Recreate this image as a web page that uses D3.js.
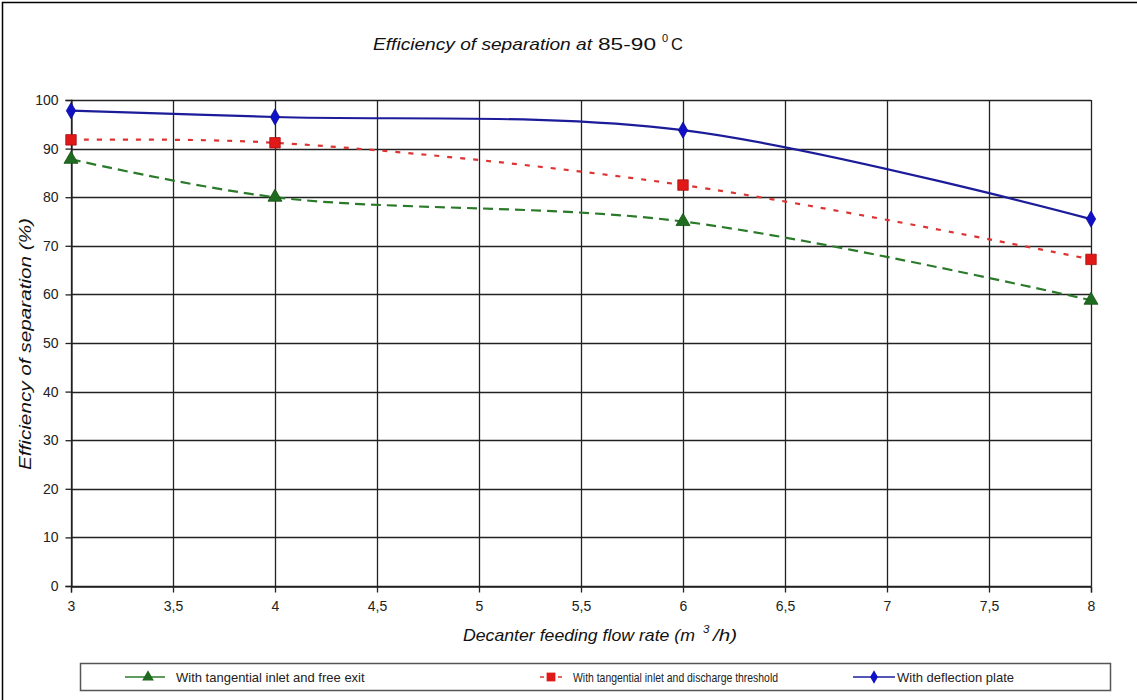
<!DOCTYPE html>
<html><head><meta charset="utf-8">
<script src="https://cdn.jsdelivr.net/npm/d3@7"></script>
<style>body{margin:0;background:#fff;font-family:Arial,"Liberation Sans",sans-serif;}</style>
</head><body><svg id="c" width="1137" height="700"></svg>
<script>
const flowRates = [3, 4, 6, 8];
const tangentialFreeExit = [87.8, 80.0, 75.0, 58.8];
const tangentialThreshold = [91.8, 91.2, 82.5, 67.2];
const deflectionPlate = [97.8, 96.5, 93.8, 75.5];
const xTicks = [3, 3.5, 4, 4.5, 5, 5.5, 6, 6.5, 7, 7.5, 8];
const yTicks = [0, 10, 20, 30, 40, 50, 60, 70, 80, 90, 100];
const seriesNames = ["With tangential inlet and free exit", "With tangential inlet and discharge threshold", "With deflection plate"];

const svg = d3.select("#c");
const L = 71, R = 1091, T = 100, B = 586;
const x = d3.scaleLinear().domain([3, 8]).range([L, R]);
const y = d3.scaleLinear().domain([0, 100]).range([B, T]);

// outer frame
svg.append("rect").attr("x", 2.5).attr("y", 2.5).attr("width", 1140).attr("height", 710)
  .attr("fill", "none").attr("stroke", "#000").attr("stroke-width", 1.5);

// title
const title = svg.append("text").attr("x", 373).attr("y", 50)
  .attr("font-size", 16.5).attr("fill", "#111");
title.append("tspan").attr("font-style", "italic").attr("textLength", 219).attr("lengthAdjust", "spacingAndGlyphs").text("Efficiency of separation at");
title.append("tspan").attr("x", 598).attr("textLength", 58).attr("lengthAdjust", "spacingAndGlyphs").text("85-90");
title.append("tspan").attr("x", 662).attr("dy", -8).attr("font-size", 11).text("0");
title.append("tspan").attr("x", 671).attr("dy", 8).text("C");

// grid
const g = svg.append("g");
g.selectAll(".vg").data(xTicks).join("line")
  .attr("x1", d => Math.round(x(d)) + 0.5).attr("x2", d => Math.round(x(d)) + 0.5)
  .attr("y1", T).attr("y2", B).attr("stroke", "#222").attr("stroke-width", 1.3);
g.selectAll(".hg").data(yTicks).join("line")
  .attr("x1", L).attr("x2", R)
  .attr("y1", d => Math.round(y(d)) + 0.5).attr("y2", d => Math.round(y(d)) + 0.5)
  .attr("stroke", "#222").attr("stroke-width", 1.3);

// axes
const ya = svg.append("g").attr("transform", `translate(${L + 0.5},0)`)
  .call(d3.axisLeft(y).tickValues(yTicks).tickSize(6).tickPadding(7).tickFormat(d3.format("d")));
const xa = svg.append("g").attr("transform", `translate(0,${B + 0.5})`)
  .call(d3.axisBottom(x).tickValues(xTicks).tickSize(6).tickPadding(9).tickFormat(d => String(d).replace(".", ",")));
[ya, xa].forEach(a => {
  a.select(".domain").attr("stroke", "#222").attr("stroke-width", 1.3);
  a.selectAll(".tick line").attr("stroke", "#222").attr("stroke-width", 1.3);
  a.selectAll("text").attr("font-size", 14).attr("font-family", "Arial, 'Liberation Sans', sans-serif").attr("fill", "#222");
});

// axis titles
const xt = svg.append("text").attr("x", 463).attr("y", 641)
  .attr("font-size", 16.5).attr("font-style", "italic").attr("fill", "#111");
xt.append("tspan").attr("textLength", 232).attr("lengthAdjust", "spacingAndGlyphs").text("Decanter feeding flow rate (m");
xt.append("tspan").attr("x", 703).attr("dy", -8).attr("font-size", 11.5).text("3");
xt.append("tspan").attr("x", 713).attr("dy", 8).attr("textLength", 24).attr("lengthAdjust", "spacingAndGlyphs").text("/h)");
svg.append("text").attr("transform", "translate(31,344) rotate(-90)").attr("text-anchor", "middle")
  .attr("font-size", 16).attr("font-style", "italic").attr("fill", "#111")
  .attr("textLength", 252).attr("lengthAdjust", "spacingAndGlyphs")
  .text("Efficiency of separation (%)");

// series
const curve = d3.curveCatmullRom.alpha(0.5);
const line = d3.line().x(d => x(d[0])).y(d => y(d[1])).curve(curve);
const series = [
  {vals: tangentialFreeExit, color: "#2a7a2a", dash: "10,6", marker: d3.symbolTriangle, mcol: "#1f6b1f", size: 85},
  {vals: tangentialThreshold, color: "#dd3333", dash: "5,8", marker: d3.symbolSquare, mcol: "#e01818", size: 110},
  {vals: deflectionPlate, color: "#1c1c9a", dash: null, marker: d3.symbolDiamond, mcol: "#1010c8", size: 75}
];
series.forEach(s => {
  const pts = flowRates.map((f, i) => [f, s.vals[i]]);
  svg.append("path").datum(pts).attr("d", line).attr("fill", "none")
    .attr("stroke", s.color).attr("stroke-width", 2.2).attr("stroke-dasharray", s.dash);
  svg.selectAll(null).data(pts).join("path")
    .attr("transform", d => `translate(${x(d[0])},${y(d[1])})`)
    .attr("d", d3.symbol(s.marker, s.size)())
    .attr("fill", s.mcol).attr("stroke", d3.color(s.mcol).darker(0.8)).attr("stroke-width", 0.8);
});

// legend
svg.append("rect").attr("x", 80.5).attr("y", 663.5).attr("width", 1030).attr("height", 27)
  .attr("fill", "#fff").attr("stroke", "#555").attr("stroke-width", 1.5);
const legPos = [{x1: 125, x2: 165, mx: 148, tx: 176, tl: null}, {x1: 540, x2: 562, mx: 551, tx: 573, tl: 205}, {x1: 853, x2: 895, mx: 874, tx: 897, tl: null}];
series.forEach((s, i) => {
  const p = legPos[i];
  const ly = 677;
  svg.append("line").attr("x1", p.x1).attr("x2", p.x2).attr("y1", ly).attr("y2", ly)
    .attr("stroke", s.color).attr("stroke-width", 1.5).attr("stroke-dasharray", i === 1 ? "4,5" : null);
  svg.append("path").attr("transform", `translate(${p.mx},${ly})`)
    .attr("d", d3.symbol(s.marker, s.size * 0.7)()).attr("fill", s.mcol);
  const t = svg.append("text").attr("x", p.tx).attr("y", ly + 5).attr("font-size", 13).attr("fill", "#222")
    .text(seriesNames[i]);
  if (p.tl) t.attr("textLength", p.tl).attr("lengthAdjust", "spacingAndGlyphs");
});
</script></body></html>
